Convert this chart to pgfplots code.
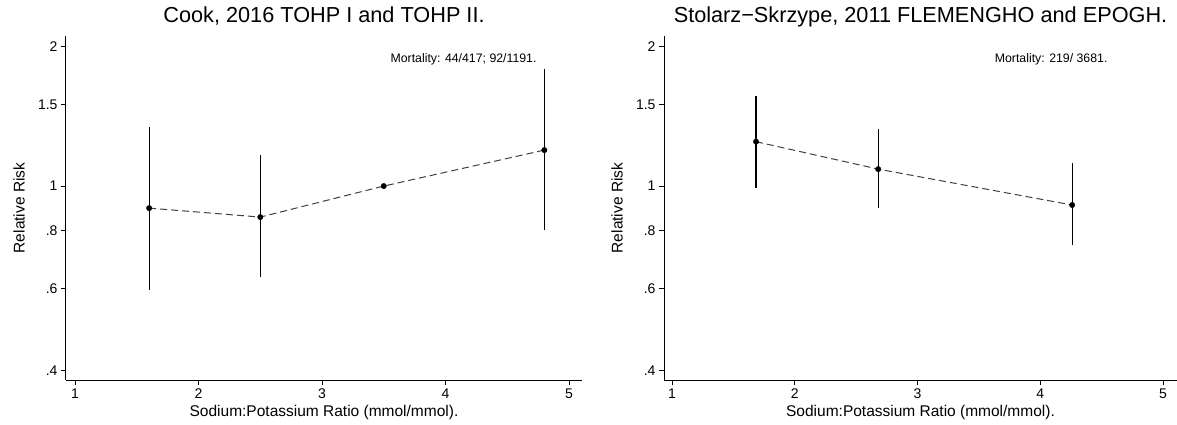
\documentclass[border=0pt]{standalone}
\usepackage{fontspec}
\setmainfont{Liberation Sans}
\usepackage{pgfplots}
\pgfplotsset{compat=1.18}
\pgfplotsset{
  mypanel/.style={
    scale only axis, height=344pt,
    ymin=0.381, ymax=2.11,
    axis x line*=bottom, axis y line*=left,
    xtick={1,2,3,4,5}, xticklabels={1,2,3,4,5},
    ytick={0.4,0.6,0.8,1,1.5,2}, yticklabels={.4,.6,.8,1,1.5,2},
    yminorticks=false, xminorticks=false,
    tick align=outside, major tick length=5pt,
    tick style={black, line width=0.9pt},
    axis line style={black, line width=1pt},
    ticklabel style={font=\fontsize{14}{16}\selectfont},
    xlabel={Sodium:Potassium Ratio (mmol/mmol).},
    ylabel={Relative Risk},
    label style={font=\fontsize{15.5}{18}\selectfont},
    xlabel style={at={(axis description cs:0.5,0)}, anchor=base, yshift=-36pt},
    ylabel style={at={(axis description cs:0,0.5)}, anchor=center, yshift=47pt},
    title style={at={(axis description cs:0.5,1)}, anchor=base, yshift=8pt, font=\fontsize{21.7}{25}\selectfont},
    clip=false,
  },
  myci/.style={black, line width=1.2pt, mark=none, forget plot},
  myfit/.style={color=black!75, line width=1pt, dash pattern=on 7pt off 4pt, mark=none},
  mypts/.style={only marks, mark=*, mark size=2.7pt, black},
}
\begin{document}
\begin{tikzpicture}
\useasboundingbox (0,0) rectangle (1177pt,424pt);
\begin{axis}[ymode=log, mypanel, at={(66pt,44pt)}, anchor=south west, width=516pt,
  xmin=0.927, xmax=5.105,
  title={Cook, 2016 TOHP I and TOHP II.}]
\addplot[myci] coordinates {(1.6,0.596) (1.6,1.34)};
\addplot[myci] coordinates {(2.5,0.636) (2.5,1.167)};
\addplot[myci] coordinates {(4.8,0.803) (4.8,1.79)};
\addplot[myfit] coordinates {(1.6,0.896) (2.5,0.857) (3.5,1.0) (4.8,1.196)};
\addplot[mypts] coordinates {(1.6,0.896) (2.5,0.857) (3.5,1.0) (4.8,1.196)};
\node[anchor=base east, font=\fontsize{12.3}{14}\selectfont] at (axis cs:4.765,1.85) {Mortality: 44/417; 92/1191.};
\end{axis}
\begin{axis}[ymode=log, mypanel, at={(664pt,44pt)}, anchor=south west, width=513pt,
  xmin=0.935, xmax=5.114,
  title={Stolarz−Skrzype, 2011 FLEMENGHO and EPOGH.}]
\addplot[myci] coordinates {(1.685,0.99) (1.685,1.565)};
\addplot[myci] coordinates {(2.68,0.896) (2.68,1.328)};
\addplot[myci] coordinates {(4.26,0.745) (4.26,1.121)};
\addplot[myfit] coordinates {(1.685,1.247) (2.68,1.088) (4.26,0.91)};
\addplot[mypts] coordinates {(1.685,1.247) (2.68,1.088) (4.26,0.91)};
\node[anchor=base east, font=\fontsize{12.3}{14}\selectfont] at (axis cs:4.576,1.85) {Mortality: 219/ 3681.};
\end{axis}
\end{tikzpicture}
\end{document}
